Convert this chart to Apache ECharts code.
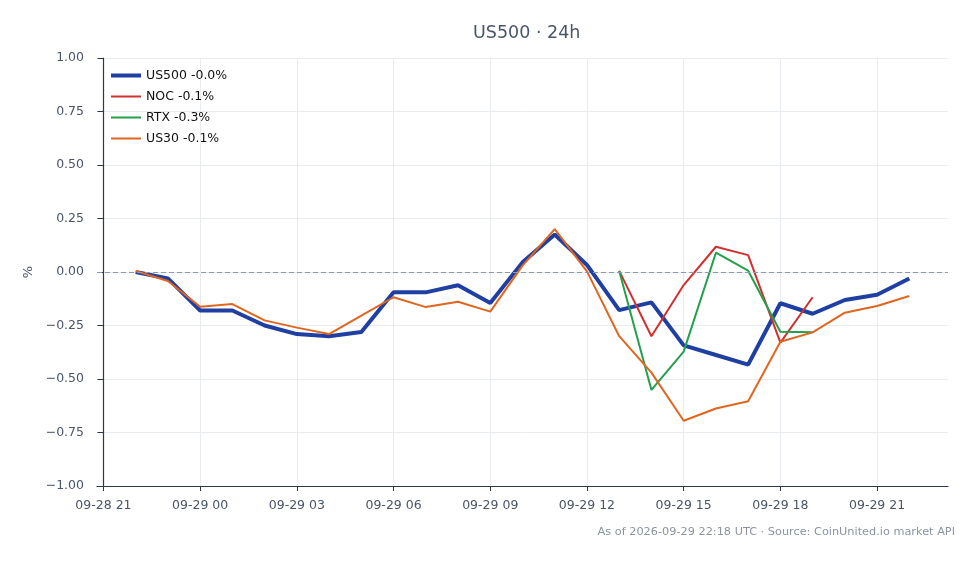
<!DOCTYPE html>
<html>
<head>
<meta charset="UTF-8">
<title>US500 · 24h</title>
<script src="https://cdn.jsdelivr.net/npm/echarts@6/dist/echarts.min.js"></script>
<style>
  html, body { margin: 0; padding: 0; background: #fff; }
  #chart { width: 978px; height: 564px; }
</style>
</head>
<body>
<div id="chart"></div>
<script>
// hourly points, 09-28 22:00 .. 09-29 22:00 (UTC)
var hours = ['09-28 22','09-28 23','09-29 00','09-29 01','09-29 02','09-29 03','09-29 04',
  '09-29 05','09-29 06','09-29 07','09-29 08','09-29 09','09-29 10','09-29 11','09-29 12',
  '09-29 13','09-29 14','09-29 15','09-29 16','09-29 17','09-29 18','09-29 19','09-29 20',
  '09-29 21','09-29 22'];

var us500 = [0.00,-0.03,-0.18,-0.18,-0.25,-0.29,-0.30,-0.28,-0.095,-0.095,-0.062,-0.145,
  0.045,0.175,0.033,-0.178,-0.142,-0.343,-0.388,-0.433,-0.146,-0.195,-0.131,-0.106,-0.03];
var us30 = [0.005,-0.042,-0.162,-0.15,-0.226,-0.26,-0.29,-0.204,-0.118,-0.164,-0.139,-0.185,
  0.03,0.20,0.003,-0.30,-0.47,-0.695,-0.638,-0.604,-0.326,-0.282,-0.19,-0.159,-0.112];
// NOC and RTX only trade 09-29 13..19
var noc = [null,null,null,null,null,null,null,null,null,null,null,null,null,null,null,
  0.005,-0.30,-0.061,0.118,0.079,-0.33,-0.118];
var rtx = [null,null,null,null,null,null,null,null,null,null,null,null,null,null,null,
  0.005,-0.551,-0.372,0.09,0.006,-0.279,-0.282];

var names = ['US500 -0.0%','NOC -0.1%','RTX -0.3%','US30 -0.1%'];
var colors = ['#1f3fa3','#d1302f','#23a04b','#e0661f'];
var xTicks = [0,3,6,9,12,15,18,21,24];
var xTickLabels = ['09-28 21','09-29 00','09-29 03','09-29 06','09-29 09','09-29 12','09-29 15','09-29 18','09-29 21'];

// x is hours after 09-28 21:00
function pairs(vals) {
  var out = [];
  for (var i = 0; i < vals.length; i++) {
    if (vals[i] !== null) out.push([i + 1, vals[i]]);
  }
  return out;
}

var font = 'DejaVu Sans';
var textCol = '#4a5568';
var axisCol = '#2d3748';

function mkSeries(idx, vals, width) {
  return {
    name: names[idx],
    type: 'line',
    data: pairs(vals),
    symbol: 'none',
    color: colors[idx],
    lineStyle: { width: width, color: colors[idx] },
    animation: false
  };
}

var series = [
  mkSeries(0, us500, 4),
  mkSeries(1, noc, 2),
  mkSeries(2, rtx, 2),
  mkSeries(3, us30, 2)
];
series[0].markLine = {
  silent: true,
  symbol: 'none',
  label: { show: false },
  lineStyle: { color: '#8a9bb0', type: [5, 3], width: 1 },
  data: [{ yAxis: 0 }]
};

var option = {
  backgroundColor: '#fff',
  animation: false,
  textStyle: { fontFamily: font },
  title: {
    text: 'US500 · 24h',
    left: 468,
    top: 19,
    textStyle: { fontFamily: font, fontSize: 17.5, fontWeight: 'normal', color: textCol }
  },
  legend: {
    orient: 'vertical',
    left: 106,
    top: 64,
    itemWidth: 30,
    itemHeight: 12,
    itemGap: 8,
    data: names.map(function (n, i) {
      return { name: n, icon: 'path://M0,0H30V' + (i === 0 ? '4' : '2') + 'H0Z' };
    }),
    textStyle: { fontFamily: font, fontSize: 12.5, color: '#111' }
  },
  grid: { left: 97, right: 30, top: 58, bottom: 78, containLabel: false },
  xAxis: {
    type: 'value',
    min: -0.2,
    max: 26.2,
    axisLine: { onZero: false, lineStyle: { color: axisCol, width: 1.2 } },
    axisTick: { show: true, length: 5, customValues: xTicks, lineStyle: { color: axisCol } },
    axisLabel: {
      customValues: xTicks,
      margin: 13,
      fontFamily: font, fontSize: 12.5, color: textCol,
      formatter: function (v) {
        var k = xTicks.indexOf(v);
        return k >= 0 ? xTickLabels[k] : '';
      }
    },
    splitLine: { show: true, lineStyle: { color: '#e8ecf1', width: 1 } }
  },
  yAxis: {
    type: 'value',
    min: -1,
    max: 1,
    interval: 0.25,
    name: '%',
    nameLocation: 'middle',
    nameRotate: 90,
    nameGap: 62,
    nameTextStyle: { fontFamily: font, fontSize: 13, color: textCol },
    axisLine: { show: true, lineStyle: { color: axisCol, width: 1.2 } },
    axisTick: { show: true, length: 6, lineStyle: { color: axisCol } },
    axisLabel: {
      margin: 13,
      fontFamily: font, fontSize: 12.5, color: textCol,
      formatter: function (v) {
        var s = Math.abs(v).toFixed(2);
        return v < 0 ? '\u2212' + s : s;
      }
    },
    splitLine: { show: true, lineStyle: { color: '#e8ecf1', width: 1 } }
  },
  graphic: [{
    type: 'text',
    right: 23,
    top: 527,
    style: {
      text: 'As of 2026-09-29 22:18 UTC · Source: CoinUnited.io market API',
      fontFamily: font, fontSize: 11.3, fill: '#8a94a3'
    }
  }],
  series: series
};

var chart = echarts.init(document.getElementById('chart'), null, { renderer: 'canvas' });
chart.setOption(option);
</script>
</body>
</html>
